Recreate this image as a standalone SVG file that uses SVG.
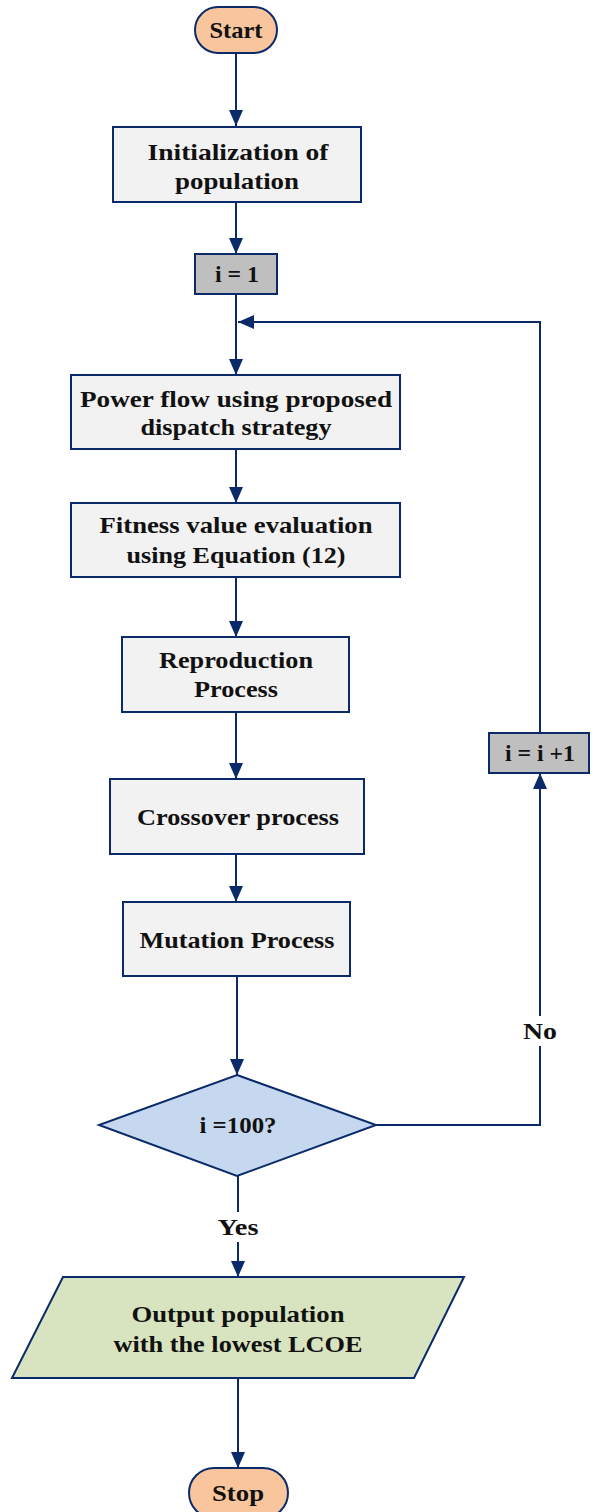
<svg xmlns="http://www.w3.org/2000/svg" width="596" height="1512" viewBox="0 0 596 1512">
<style>
.n{stroke:#0b2a6a;stroke-width:2}
.box{fill:#f2f2f2}
.grey{fill:#bfbfbf}
.term{fill:#f8c59c}
.dec{fill:#c6d8ef}
.io{fill:#d8e4bf}
.t{font-family:"Liberation Serif",serif;font-weight:bold;font-size:24px;fill:#111;text-anchor:middle}
.c{stroke:#0b2a6a;stroke-width:2;fill:none}
</style>
<defs>
<marker id="ah" markerUnits="userSpaceOnUse" markerWidth="16" markerHeight="16" viewBox="0 0 16 16" refX="16" refY="8" orient="auto">
<path d="M0,1 L16,8 L0,15 Z" fill="#0b2a6a"/>
</marker>
</defs>
<g id="connectors">
<line class="c" x1="236" y1="53" x2="236" y2="126" marker-end="url(#ah)"/>
<line class="c" x1="236" y1="202" x2="236" y2="254" marker-end="url(#ah)"/>
<line class="c" x1="236" y1="294" x2="236" y2="375" marker-end="url(#ah)"/>
<line class="c" x1="236" y1="449" x2="236" y2="503" marker-end="url(#ah)"/>
<line class="c" x1="236" y1="577" x2="236" y2="637" marker-end="url(#ah)"/>
<line class="c" x1="236" y1="712" x2="236" y2="779" marker-end="url(#ah)"/>
<line class="c" x1="236" y1="854" x2="236" y2="902" marker-end="url(#ah)"/>
<line class="c" x1="237" y1="976" x2="237" y2="1075" marker-end="url(#ah)"/>
<polyline class="c" points="376,1125 540,1125 540,773" marker-end="url(#ah)"/>
<polyline class="c" points="540,733 540,322 238,322" marker-end="url(#ah)"/>
<line class="c" x1="238" y1="1176" x2="238" y2="1277" marker-end="url(#ah)"/>
<line class="c" x1="238" y1="1378" x2="238" y2="1468" marker-end="url(#ah)"/>
<rect x="520" y="1016" width="40" height="30" fill="#fff"/>
<text class="t" x="540" y="1039" textLength="34" lengthAdjust="spacingAndGlyphs">No</text>
<rect x="214" y="1212" width="48" height="30" fill="#fff"/>
<text class="t" x="238" y="1235" textLength="41" lengthAdjust="spacingAndGlyphs">Yes</text>
</g>
<g id="start">
<rect class="n term" x="195" y="7" width="82" height="46" rx="23"/>
<text class="t" x="236" y="38" textLength="53" lengthAdjust="spacingAndGlyphs">Start</text>
</g>
<g id="init">
<rect class="n box" x="113" y="127" width="248" height="75"/>
<text class="t" x="238" y="160" textLength="181" lengthAdjust="spacingAndGlyphs">Initialization of</text>
<text class="t" x="237" y="189" textLength="124" lengthAdjust="spacingAndGlyphs">population</text>
</g>
<g id="i1">
<rect class="n grey" x="195" y="254" width="82" height="40"/>
<text class="t" x="237" y="282" textLength="44" lengthAdjust="spacingAndGlyphs">i = 1</text>
</g>
<g id="powerflow">
<rect class="n box" x="71" y="375" width="329" height="74"/>
<text class="t" x="236" y="407" textLength="312" lengthAdjust="spacingAndGlyphs">Power flow using proposed</text>
<text class="t" x="236" y="435" textLength="191" lengthAdjust="spacingAndGlyphs">dispatch strategy</text>
</g>
<g id="fitness">
<rect class="n box" x="71" y="503" width="329" height="74"/>
<text class="t" x="236" y="533" textLength="273" lengthAdjust="spacingAndGlyphs">Fitness value evaluation</text>
<text class="t" x="236" y="563" textLength="219" lengthAdjust="spacingAndGlyphs">using Equation (12)</text>
</g>
<g id="reproduction">
<rect class="n box" x="122" y="637" width="227" height="75"/>
<text class="t" x="236" y="668" textLength="154" lengthAdjust="spacingAndGlyphs">Reproduction</text>
<text class="t" x="236" y="697" textLength="84" lengthAdjust="spacingAndGlyphs">Process</text>
</g>
<g id="crossover">
<rect class="n box" x="110" y="779" width="254" height="75"/>
<text class="t" x="238" y="825" textLength="202" lengthAdjust="spacingAndGlyphs">Crossover process</text>
</g>
<g id="mutation">
<rect class="n box" x="123" y="902" width="227" height="74"/>
<text class="t" x="237" y="948" textLength="195" lengthAdjust="spacingAndGlyphs">Mutation Process</text>
</g>
<g id="decision">
<polygon class="n dec" points="237,1075 376,1125 237,1176 99,1125"/>
<text class="t" x="238" y="1133" style="font-size:23px" textLength="77" lengthAdjust="spacingAndGlyphs">i =100?</text>
</g>
<g id="incr">
<rect class="n grey" x="489" y="733" width="100" height="40"/>
<text class="t" x="540" y="761" textLength="70" lengthAdjust="spacingAndGlyphs">i = i +1</text>
</g>
<g id="output">
<polygon class="n io" points="63,1277 464,1277 414,1378 12,1378"/>
<text class="t" x="238" y="1322" textLength="213" lengthAdjust="spacingAndGlyphs">Output population</text>
<text class="t" x="238" y="1352" textLength="249" lengthAdjust="spacingAndGlyphs">with the lowest LCOE</text>
</g>
<g id="stop">
<rect class="n term" x="189" y="1468" width="99" height="50" rx="25"/>
<text class="t" x="238" y="1501" textLength="52" lengthAdjust="spacingAndGlyphs">Stop</text>
</g>
</svg>
